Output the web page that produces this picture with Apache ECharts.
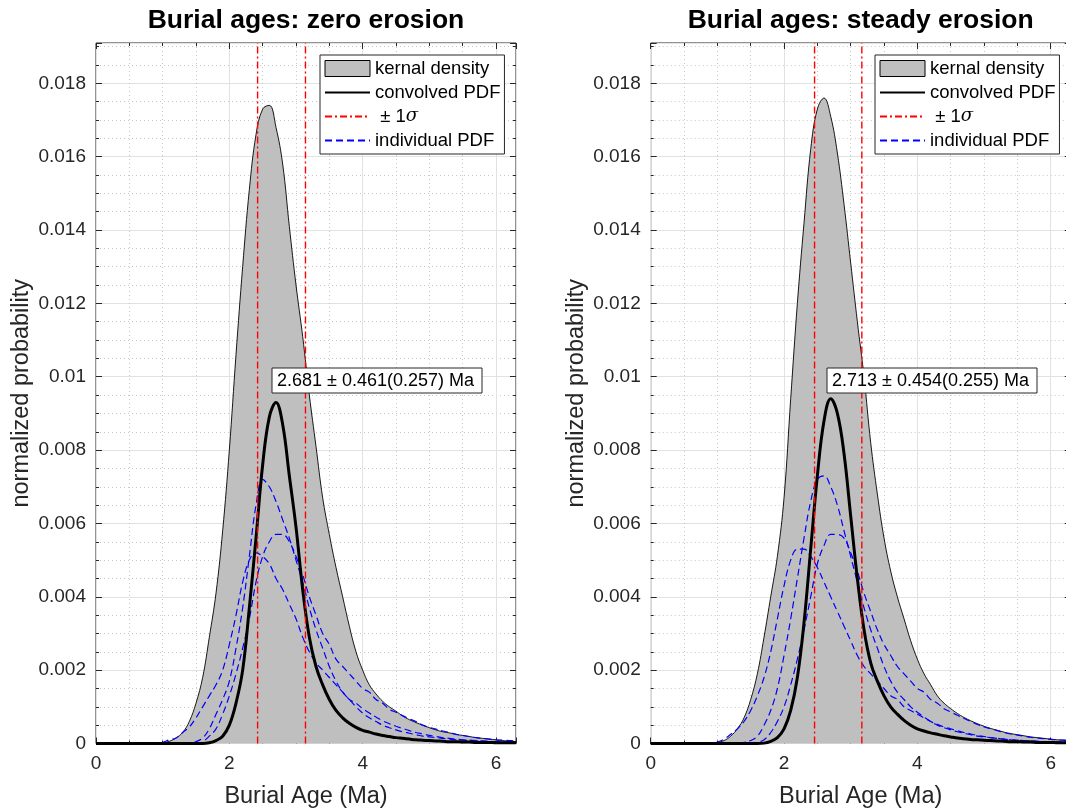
<!DOCTYPE html>
<html><head><meta charset="utf-8">
<script src="https://cdn.jsdelivr.net/npm/echarts@6/dist/echarts.min.js"></script>
<style>html,body{margin:0;padding:0;background:#fff}#c{width:1066px;height:812px}</style>
</head><body><div id="c"></div>
<script>
// ---------- data ----------
const burialAge = [
 0.0,0.1,0.2,0.3,0.4,0.5,0.6,0.7,0.8,0.9,
 1.0,1.1,1.2,1.3,1.4,1.5,1.6,1.7,1.8,1.9,
 2.0,2.1,2.2,2.3,2.4,2.5,2.6,2.7,2.8,2.9,
 3.0,3.1,3.2,3.3,3.4,3.5,3.6,3.7,3.8,3.9,
 4.0,4.1,4.2,4.3,4.4,4.5,4.6,4.7,4.8,4.9,
 5.0,5.1,5.2,5.3,5.4,5.5,5.6,5.7,5.8,5.9,
 6.0,6.1,6.2,6.3];

const zeroKernel = [
 0,0,0,0,0,0,0,0,0,0,
 0.00002,0.00006,0.00015,0.0003,0.0006,0.0011,0.0018,0.0029,0.0041,0.0058,
 0.0080,0.0106,0.0130,0.0151,0.0166,0.0173,0.0174,0.0168,0.0158,0.0141,
 0.0125,0.0111,0.0095,0.0081,0.0067,0.0057,0.0048,0.0040,0.0032,0.0025,
 0.0020,0.0016,0.00135,0.00115,0.0010,0.00088,0.00075,0.00065,0.00057,0.0005,
 0.00043,0.00037,0.00032,0.00029,0.00025,0.00022,0.00019,0.00016,0.00014,0.00012,
 0.0001,0.00008,0.00006,0.00005];
const zeroConvolved = [
 0,0,0,0,0,0,0,0,0,0,
 0,0,0,0,0,0,0,0.00002,0.00008,0.0002,
 0.0005,0.0011,0.0020,0.0037,0.0056,0.0076,0.0089,0.0093,0.0087,0.0073,
 0.0059,0.0042,0.0029,0.0021,0.0016,0.0012,0.0009,0.0007,0.00055,0.00044,
 0.00036,0.00031,0.00026,0.00022,0.00019,0.00016,0.00014,0.00012,0.0001,0.00009,
 0.00008,0.00007,0.00006,0.00005,0.00005,0.00004,0.00004,0.00003,0.00003,0.00003,
 0.00002,0.00002,0.00002,0.00002];
const zeroIndivA = [
 0,0,0,0,0,0,0,0,0,0,
 0,0,0,0,0,0.00005,0.00015,0.0004,0.0008,0.0012,
 0.0017,0.0026,0.0037,0.0051,0.0065,0.0072,0.0070,0.0066,0.0061,0.0056,
 0.0050,0.0044,0.0037,0.0031,0.0026,0.0021,0.0017,0.0014,0.0012,0.0010,
 0.00083,0.0007,0.0006,0.0005,0.00043,0.00037,0.00032,0.00028,0.00024,0.0002,
 0.00018,0.00016,0.00014,0.00012,0.0001,0.00009,0.00008,0.00007,0.00006,0.00005,
 0.00005,0.00004,0.00004,0.00003];
const zeroIndivB = [
 0,0,0,0,0,0,0,0,0,0,
 0,0,0,0,0,0,0.00005,0.0002,0.0004,0.0008,
 0.0013,0.0019,0.0026,0.0034,0.0044,0.0051,0.0055,0.0057,0.0057,0.0055,
 0.0051,0.0046,0.0040,0.0035,0.0030,0.0027,0.0023,0.0021,0.0019,0.0017,
 0.0015,0.0014,0.0012,0.0011,0.00093,0.00085,0.00076,0.00067,0.0006,0.0005,
 0.00044,0.00039,0.00034,0.0003,0.00025,0.00022,0.00019,0.00016,0.00014,0.00012,
 0.0001,0.00009,0.00008,0.00007];
const zeroIndivC = [
 0,0,0,0,0,0,0,0,0,0,
 0.00003,0.0001,0.00015,0.0003,0.00045,0.0007,0.001,0.0013,0.0016,0.002,
 0.0027,0.0035,0.0044,0.0050,0.0052,0.0051,0.0049,0.0045,0.0042,0.0038,
 0.0034,0.0029,0.0025,0.0022,0.0020,0.0018,0.0016,0.0014,0.0012,0.0011,
 0.00095,0.00083,0.00072,0.00062,0.00054,0.00047,0.00041,0.00035,0.0003,0.00026,
 0.00022,0.00019,0.00016,0.00014,0.00012,0.0001,0.00009,0.00008,0.00007,0.00006,
 0.00005,0.00004,0.00004,0.00003];
const zeroSigma = [2.424, 3.142];

const steadyKernel = [
 0,0,0,0,0,0,0,0,0,0,
 0.00003,0.00008,0.0002,0.0004,0.0007,0.0012,0.0019,0.0029,0.0040,0.0051,
 0.0067,0.0094,0.0120,0.0142,0.0162,0.0173,0.0176,0.0171,0.0161,0.0147,
 0.0131,0.0115,0.0100,0.0082,0.0068,0.0056,0.0047,0.0040,0.0034,0.0028,
 0.0023,0.0019,0.0016,0.0013,0.0011,0.00095,0.00082,0.00071,0.00062,0.00054,
 0.00047,0.00041,0.00036,0.00031,0.00027,0.00024,0.00021,0.00018,0.00016,0.00014,
 0.00012,0.0001,0.00009,0.00008];
const steadyConvolved = [
 0,0,0,0,0,0,0,0,0,0,
 0,0,0,0,0,0,0,0.00001,0.00006,0.00016,
 0.0004,0.0009,0.0018,0.0033,0.0053,0.0073,0.0088,0.0094,0.0090,0.0079,
 0.0062,0.0045,0.0031,0.0022,0.0017,0.0013,0.0010,0.0008,0.00063,0.0005,
 0.0004,0.00034,0.00029,0.00025,0.00021,0.00018,0.00015,0.00013,0.00011,0.0001,
 0.00009,0.00008,0.00007,0.00006,0.00005,0.00005,0.00004,0.00004,0.00003,0.00003,
 0.00003,0.00002,0.00002,0.00002];
const steadyIndivA = [
 0,0,0,0,0,0,0,0,0,0,
 0,0,0,0,0.00003,0.00008,0.0002,0.0005,0.0009,0.0015,
 0.0024,0.0034,0.0045,0.0056,0.0066,0.0072,0.0073,0.0070,0.0065,0.0058,
 0.0051,0.0044,0.0037,0.0031,0.0026,0.0021,0.0017,0.0014,0.0012,0.0010,
 0.00085,0.00072,0.0006,0.0005,0.00043,0.00037,0.00032,0.00028,0.00024,0.0002,
 0.00018,0.00016,0.00014,0.00012,0.0001,0.00009,0.00008,0.00007,0.00006,0.00005,
 0.00005,0.00004,0.00004,0.00003];
const steadyIndivB = [
 0,0,0,0,0,0,0,0,0,0,
 0,0,0,0,0,0,0.00003,0.0001,0.0003,0.0006,
 0.001,0.0016,0.0023,0.0031,0.0040,0.0049,0.0054,0.0057,0.0057,0.0056,
 0.0052,0.0047,0.0041,0.0036,0.0031,0.0027,0.0024,0.0021,0.0019,0.0017,
 0.0015,0.0014,0.0012,0.0011,0.00095,0.00086,0.00077,0.00068,0.0006,0.00052,
 0.00045,0.0004,0.00035,0.0003,0.00026,0.00023,0.0002,0.00017,0.00015,0.00013,
 0.00011,0.0001,0.00009,0.00008];
const steadyIndivC = [
 0,0,0,0,0,0,0,0,0,0,
 0.00004,0.00012,0.00025,0.0004,0.0006,0.0009,0.0013,0.0018,0.0025,0.0034,
 0.0043,0.0050,0.0053,0.0053,0.0051,0.0048,0.0044,0.0040,0.0036,0.0032,
 0.0028,0.0024,0.0021,0.0019,0.0017,0.0015,0.0013,0.0012,0.0010,0.0009,
 0.0008,0.0007,0.0006,0.00052,0.00045,0.0004,0.00035,0.0003,0.00026,0.00022,
 0.00019,0.00016,0.00014,0.00012,0.0001,0.00009,0.00008,0.00007,0.00006,0.00005,
 0.00004,0.00004,0.00003,0.00003];
const steadySigma = [2.458, 3.167];

const xTickLabels = ['0','2','4','6'];
const yTickLabels = ['0','0.002','0.004','0.006','0.008','0.01','0.012','0.014','0.016','0.018'];
const legendNames = ['kernal density','convolved PDF','± 1σ','individual PDF'];
const panelTitles = ['Burial ages: zero erosion','Burial ages: steady erosion'];
const panelNotes = ['2.681 ± 0.461(0.257) Ma','2.713 ± 0.454(0.255) Ma'];
const xLabel = 'Burial Age (Ma)';
const yLabel = 'normalized probability';

// ---------- layout / style ----------
const FONT = '"Liberation Sans", Arial, Helvetica, sans-serif';
const X_MAX = 6.3, Y_MAX = 0.0191;
const AX = '#262626';
const GRID_TOP = 43, GRID_H = 700.5, GRID_W = 420;
const panels = [
  {left:96, kernel:zeroKernel, conv:zeroConvolved, indiv:[zeroIndivA,zeroIndivB,zeroIndivC], sigma:zeroSigma,
   title:panelTitles[0], note:panelNotes[0], legendLeft:320, noteX:272, noteW:210},
  {left:650.7, kernel:steadyKernel, conv:steadyConvolved, indiv:[steadyIndivA,steadyIndivB,steadyIndivC], sigma:steadySigma,
   title:panelTitles[1], note:panelNotes[1], legendLeft:875, noteX:827, noteW:210}
];

function near(v, step){ return Math.abs(v/step - Math.round(v/step)) < 1e-6; }

const tickCfg = () => ({show:true, inside:true, length:6, lineStyle:{color:AX, width:1}});
const minorTickCfg = () => ({show:true, splitNumber:4, length:3, lineStyle:{color:AX, width:1}});
const gridLine = () => ({show:true, lineStyle:{color:'#e2e2e2', width:1}});
const minorGridLine = () => ({show:true, lineStyle:{color:'#c8c8c8', width:1, type:[1,3]}});
const noLine = () => ({show:false, onZero:false});

const grids = [], xAxes = [], yAxes = [], series = [], legends = [], graphics = [];
panels.forEach((p, gi) => {
  grids.push({left:p.left, top:GRID_TOP, width:GRID_W, height:GRID_H, show:true, backgroundColor:'#fff',
    borderColor:AX, borderWidth:1, containLabel:false, outerBoundsMode:'none'});
  // bottom x axis: labels, grid lines, inward ticks
  xAxes.push({type:'value', gridIndex:gi, min:0, max:X_MAX, interval:2, position:'bottom',
    axisLine:noLine(), axisTick:tickCfg(), minorTick:minorTickCfg(),
    splitLine:gridLine(), minorSplitLine:minorGridLine(),
    axisLabel:{show:true, showMaxLabel:false, color:AX, fontFamily:FONT, fontSize:19, margin:11,
      formatter: v => near(v,2) ? xTickLabels[Math.round(v/2)] : ''},
    name:xLabel, nameLocation:'middle', nameGap:41,
    nameTextStyle:{color:AX, fontFamily:FONT, fontSize:23.5}});
  // top x axis: inward ticks only
  xAxes.push({type:'value', gridIndex:gi, min:0, max:X_MAX, interval:2, position:'top',
    axisLine:noLine(), axisTick:tickCfg(), minorTick:minorTickCfg(),
    axisLabel:{show:false}, splitLine:{show:false}, minorSplitLine:{show:false}});
  // left y axis: labels, grid lines, inward ticks
  yAxes.push({type:'value', gridIndex:gi, min:0, max:Y_MAX, interval:0.002, position:'left',
    axisLine:noLine(), axisTick:tickCfg(), minorTick:minorTickCfg(),
    splitLine:gridLine(), minorSplitLine:minorGridLine(),
    axisLabel:{show:true, showMaxLabel:false, color:AX, fontFamily:FONT, fontSize:19, margin:10,
      formatter: v => near(v,0.002) ? yTickLabels[Math.round(v/0.002)] : ''},
    name:yLabel, nameLocation:'middle', nameGap:62, nameRotate:90,
    nameTextStyle:{color:AX, fontFamily:FONT, fontSize:23.5}});
  // right y axis: inward ticks only
  yAxes.push({type:'value', gridIndex:gi, min:0, max:Y_MAX, interval:0.002, position:'right',
    axisLine:noLine(), axisTick:tickCfg(), minorTick:minorTickCfg(),
    axisLabel:{show:false}, splitLine:{show:false}, minorSplitLine:{show:false}});

  const xi = gi*2, yi = gi*2;
  const pairs = arr => burialAge.map((x,k) => [x, arr[k]]);
  const base = {type:'line', xAxisIndex:xi, yAxisIndex:yi, symbol:'none', smooth:0.4,
    animation:false, silent:true};
  series.push(Object.assign({}, base, {name:legendNames[0], data:pairs(p.kernel), z:2,
    lineStyle:{color:'#000', width:0.9}, itemStyle:{color:'#bfbfbf'}, areaStyle:{color:'#bfbfbf', opacity:1}}));
  p.indiv.forEach(arr => series.push(Object.assign({}, base, {name:legendNames[3], data:pairs(arr), z:3,
    lineStyle:{color:'#0000ff', width:1.2, type:[7,4]}, itemStyle:{color:'#0000ff'}})));
  series.push(Object.assign({}, base, {name:legendNames[1], data:pairs(p.conv), z:4,
    lineStyle:{color:'#000', width:3}, itemStyle:{color:'#000'}}));
  p.sigma.forEach(v => series.push(Object.assign({}, base, {name:legendNames[2], smooth:false, z:5,
    data:[[v,0],[v,Y_MAX]], lineStyle:{color:'#ff0000', width:1.4, type:[7,3,2,3]}, itemStyle:{color:'#ff0000'}})));

  legends.push({left:p.legendLeft, top:55, orient:'vertical', padding:[4,4,4,4], itemWidth:45, itemHeight:16, itemGap:5,
    backgroundColor:'#fff', borderColor:AX, borderWidth:1, borderRadius:0, selectedMode:false,
    textStyle:{fontFamily:FONT, fontSize:18.5, color:'#000',
      rich:{n:{fontFamily:FONT, fontSize:18.5, color:'#000'}, s:{fontFamily:'"DejaVu Serif", serif', fontStyle:'italic', fontSize:18, color:'#000'}}},
    formatter: name => name === legendNames[2] ? '{n| ± 1}{s|σ}' : name,
    data:[{name:legendNames[0], icon:'rect', itemStyle:{color:'#bfbfbf', borderColor:'#000', borderWidth:1}},
          {name:legendNames[1], itemStyle:{opacity:0}},
          {name:legendNames[2], itemStyle:{opacity:0}},
          {name:legendNames[3], itemStyle:{opacity:0}}]});

  graphics.push({type:'text', x:p.left + GRID_W/2, y:21, z:100,
    style:{text:p.title, font:'bold 26.5px ' + FONT, fill:'#000', align:'center', verticalAlign:'middle'}});
  graphics.push({type:'rect', z:100, shape:{x:p.noteX, y:368, width:p.noteW, height:25},
    style:{fill:'#fff', stroke:AX, lineWidth:1}});
  graphics.push({type:'text', x:p.noteX+5, y:381, z:101,
    style:{text:p.note, font:'18px ' + FONT, fill:'#000', align:'left', verticalAlign:'middle'}});
});

const chart = echarts.init(document.getElementById('c'), null, {renderer:'canvas'});
chart.setOption({
  animation:false,
  backgroundColor:'#fff',
  grid:grids, xAxis:xAxes, yAxis:yAxes, series:series, legend:legends, graphic:graphics,
  tooltip:{show:false}
});
</script></body></html>
